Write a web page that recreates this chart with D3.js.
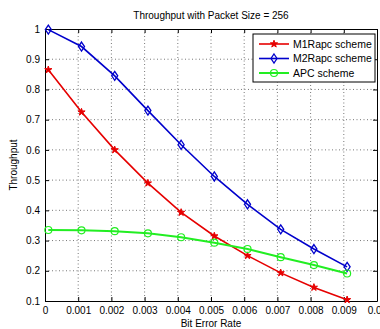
<!DOCTYPE html>
<html>
<head>
<meta charset="utf-8">
<script src="https://cdn.jsdelivr.net/npm/d3@7"></script>
<style>
  body { margin: 0; background: #fff; }
  text { font-family: "Liberation Sans", Arial, sans-serif; }
</style>
</head>
<body>
<div id="container"></div>
<script>
// values
const ber = [0.0001, 0.0011, 0.0021, 0.0031, 0.0041, 0.0051, 0.0061, 0.0071, 0.0081, 0.0091];
const m1rapc = [0.865, 0.725, 0.600, 0.490, 0.393, 0.315, 0.250, 0.193, 0.145, 0.104];
const m2rapc = [0.998, 0.942, 0.845, 0.730, 0.617, 0.512, 0.420, 0.337, 0.272, 0.213];
const apc = [0.335, 0.334, 0.331, 0.324, 0.311, 0.293, 0.272, 0.245, 0.219, 0.191];
const xTicks = [0, 0.001, 0.002, 0.003, 0.004, 0.005, 0.006, 0.007, 0.008, 0.009, 0.01];
const yTicks = [0.1, 0.2, 0.3, 0.4, 0.5, 0.6, 0.7, 0.8, 0.9, 1];
const seriesNames = ["M1Rapc scheme", "M2Rapc scheme", "APC scheme"];

const width = 380, height = 329;
const margin = {top: 29, right: 3, bottom: 28, left: 45};
const w = width - margin.left - margin.right;
const h = height - margin.top - margin.bottom;

const svg = d3.select("#container").append("svg")
  .attr("width", width)
  .attr("height", height);

const g = svg.append("g")
  .attr("transform", `translate(${margin.left},${margin.top})`);

const x = d3.scaleLinear().domain([0, 0.01]).range([0, w]);
const y = d3.scaleLinear().domain([0.1, 1]).range([h, 0]);

// grid
g.append("g").selectAll("line")
  .data(xTicks.slice(1, -1))
  .enter().append("line")
  .attr("x1", d => x(d)).attr("x2", d => x(d))
  .attr("y1", 0).attr("y2", h)
  .attr("stroke", "#555").attr("stroke-width", 0.8)
  .attr("stroke-dasharray", "1,2.5");

g.append("g").selectAll("line")
  .data(yTicks.slice(1, -1))
  .enter().append("line")
  .attr("y1", d => y(d)).attr("y2", d => y(d))
  .attr("x1", 0).attr("x2", w)
  .attr("stroke", "#555").attr("stroke-width", 0.8)
  .attr("stroke-dasharray", "1,2.5");

// axes
const fmtX = d => d === 0 ? "0" : d3.format(".3~f")(d);
const fmtY = d => d === 1 ? "1" : d3.format(".1f")(d);

const xAxis = g.append("g")
  .attr("transform", `translate(0,${h})`)
  .call(d3.axisBottom(x).tickValues(xTicks).tickFormat(fmtX).tickSizeInner(-4).tickSizeOuter(0).tickPadding(6));
const xAxisTop = g.append("g")
  .call(d3.axisTop(x).tickValues(xTicks).tickFormat("").tickSizeInner(-4).tickSizeOuter(0));
const yAxis = g.append("g")
  .call(d3.axisLeft(y).tickValues(yTicks).tickFormat(fmtY).tickSizeInner(-4).tickSizeOuter(0).tickPadding(5));
const yAxisRight = g.append("g")
  .attr("transform", `translate(${w},0)`)
  .call(d3.axisRight(y).tickValues(yTicks).tickFormat("").tickSizeInner(-4).tickSizeOuter(0));

[xAxis, xAxisTop, yAxis, yAxisRight].forEach(a => {
  a.selectAll("path").attr("stroke", "#000");
  a.selectAll("line").attr("stroke", "#000");
  a.selectAll("text").attr("fill", "#000").style("font-size", "10px")
    .style("font-family", "'Liberation Sans', Arial, sans-serif");
});

// series
const series = [
  {name: seriesNames[0], values: m1rapc, color: "#e60000", width: 1.6, marker: "star"},
  {name: seriesNames[1], values: m2rapc, color: "#0000cc", width: 1.6, marker: "diamond"},
  {name: seriesNames[2], values: apc, color: "#22ee22", width: 2, marker: "circle"}
];

const line = d3.line().x((d, i) => x(ber[i])).y(d => y(d));

function drawMarker(sel, type, color) {
  if (type === "circle") {
    sel.append("circle").attr("r", 3.5)
      .attr("fill", "none").attr("stroke", color).attr("stroke-width", 1.2);
  } else if (type === "diamond") {
    sel.append("path").attr("d", "M0,-4.5L3,0L0,4.5L-3,0Z")
      .attr("fill", "none").attr("stroke", color).attr("stroke-width", 1.3);
  } else {
    sel.append("path").attr("d", d3.symbol(d3.symbolStar, 16)())
      .attr("fill", color).attr("stroke", color).attr("stroke-width", 1);
  }
}

series.forEach(s => {
  g.append("path")
    .datum(s.values)
    .attr("d", line)
    .attr("fill", "none")
    .attr("stroke", s.color)
    .attr("stroke-width", s.width);
  g.append("g").selectAll("g")
    .data(s.values)
    .enter().append("g")
    .attr("transform", (d, i) => `translate(${x(ber[i])},${y(d)})`)
    .each(function() { drawMarker(d3.select(this), s.marker, s.color); });
});

// legend
const legend = g.append("g").attr("transform", `translate(${w - 124},5)`);
legend.append("rect")
  .attr("width", 122).attr("height", 48)
  .attr("fill", "#fff").attr("stroke", "#000").attr("stroke-width", 1);
series.forEach((s, i) => {
  const row = legend.append("g").attr("transform", `translate(0,${10 + i * 14.5})`);
  row.append("line").attr("x1", 6).attr("x2", 36)
    .attr("stroke", s.color).attr("stroke-width", s.width);
  const m = row.append("g").attr("transform", "translate(21,0)");
  drawMarker(m, s.marker, s.color);
  row.append("text").attr("x", 40).attr("y", 0).attr("dy", "0.35em")
    .style("font-size", "10.5px").attr("fill", "#000").text(s.name);
});

// labels
svg.append("text")
  .attr("x", margin.left + w / 2).attr("y", 19)
  .attr("text-anchor", "middle").style("font-size", "10px")
  .text("Throughput with Packet Size = 256");

svg.append("text")
  .attr("x", margin.left + w / 2).attr("y", 327)
  .attr("text-anchor", "middle").style("font-size", "10px")
  .text("Bit Error Rate");

svg.append("text")
  .attr("transform", `translate(17,${margin.top + h / 2}) rotate(-90)`)
  .attr("text-anchor", "middle").style("font-size", "10px")
  .text("Throughput");
</script>
</body>
</html>
